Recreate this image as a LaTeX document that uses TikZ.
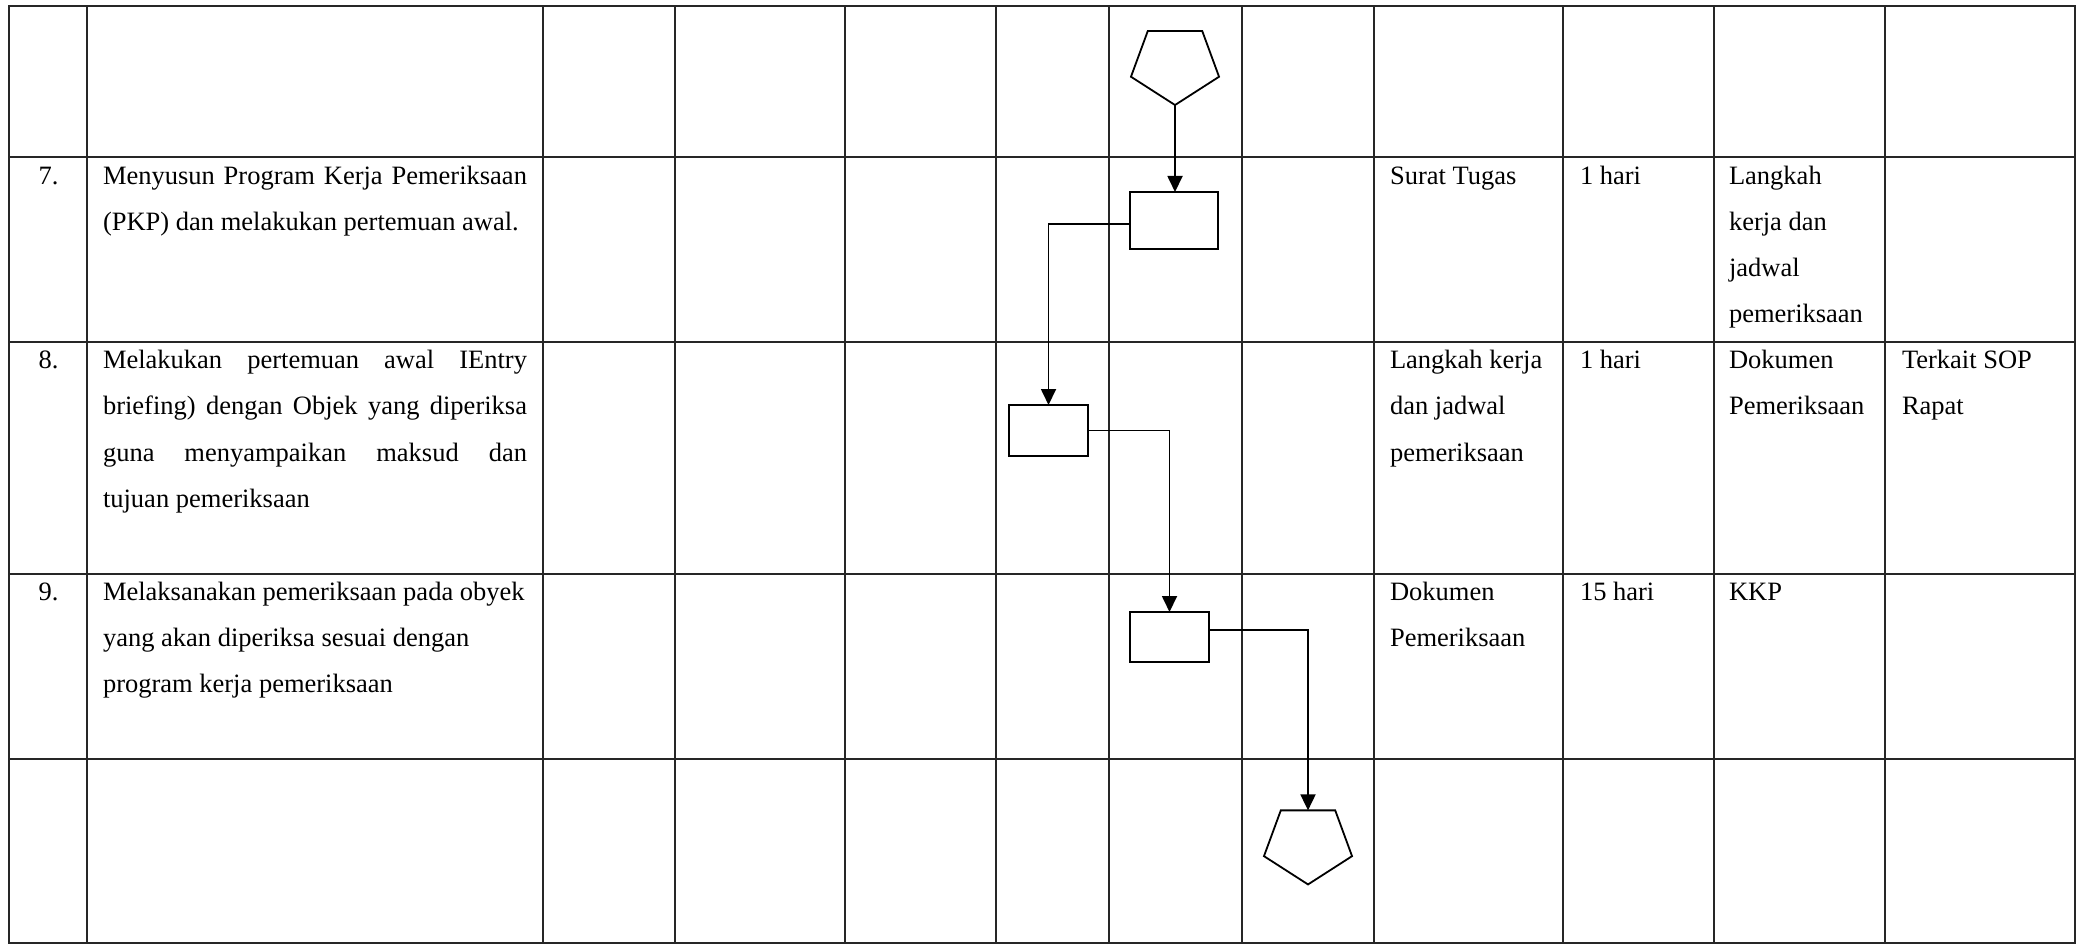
\documentclass[tikz,border=0pt]{standalone}
\usepackage{fontspec}
\setmainfont{Liberation Serif}
\usetikzlibrary{arrows.meta,shapes.geometric}
\newcommand\cellfont{\fontsize{13.25}{23}\selectfont}
\tikzset{
  gridline/.style={line width=0.85pt, draw=black!85},
  txt/.style={anchor=base west, inner sep=0pt, outer sep=0pt, font=\cellfont, text=black},
  numtxt/.style={anchor=base, inner sep=0pt, outer sep=0pt, font=\cellfont, text=black},
  procbox/.style={draw=black, line width=0.9pt, rectangle, inner sep=0pt, outer sep=0pt},
  pent/.style={draw=black, line width=0.9pt, regular polygon, regular polygon sides=5,
               shape border rotate=180, inner sep=0pt, outer sep=0pt, minimum size=46.3pt},
  flow/.style={line width=0.9pt, draw=black, -{Triangle[width=7.5pt,length=8pt]}},
}
\newcommand\jline[1]{\makebox[212pt][s]{#1}}
\begin{document}
\begin{tikzpicture}[x=0.5pt,y=-0.5pt]
\useasboundingbox (0,0) rectangle (2086,946);
\fill[white] (0,0) rectangle (2086,946);

% grid
\draw[gridline] (9,6) rectangle (2075,943);
\foreach \gx in {87,543,675,845,996,1109,1242,1374,1563,1714,1885}
  \draw[gridline] (\gx,6) -- (\gx,943);
\foreach \gy in {157,342,574,759}
  \draw[gridline] (9,\gy) -- (2075,\gy);

% row 7
\node[numtxt] (n7) at (48.5,185) {7.};
\node[txt] (d7a) at (103,185) {\jline{Menyusun Program Kerja Pemeriksaan}};
\node[txt] (d7b) at (103,231) {(PKP) dan melakukan pertemuan awal.};
\node[txt] (k7) at (1390,185) {Surat Tugas};
\node[txt] (w7) at (1580,185) {1 hari};
\node[txt] (o7a) at (1729,185) {Langkah};
\node[txt] (o7b) at (1729,231) {kerja dan};
\node[txt] (o7c) at (1729,277) {jadwal};
\node[txt] (o7d) at (1729,323) {pemeriksaan};

% row 8
\node[numtxt] (n8) at (48.5,369) {8.};
\node[txt] (d8a) at (103,369) {\jline{Melakukan pertemuan awal IEntry}};
\node[txt] (d8b) at (103,415) {\jline{briefing) dengan Objek yang diperiksa}};
\node[txt] (d8c) at (103,461) {\jline{guna menyampaikan maksud dan}};
\node[txt] (d8d) at (103,507) {tujuan pemeriksaan};
\node[txt] (k8a) at (1390,369) {Langkah kerja};
\node[txt] (k8b) at (1390,415) {dan jadwal};
\node[txt] (k8c) at (1390,461) {pemeriksaan};
\node[txt] (w8) at (1580,369) {1 hari};
\node[txt] (o8a) at (1729,369) {Dokumen};
\node[txt] (o8b) at (1729,415) {Pemeriksaan};
\node[txt] (r8a) at (1902,369) {Terkait SOP};
\node[txt] (r8b) at (1902,415) {Rapat};

% row 9
\node[numtxt] (n9) at (48.5,600) {9.};
\node[txt] (d9a) at (103,600) {Melaksanakan pemeriksaan pada obyek};
\node[txt] (d9b) at (103,646) {yang akan diperiksa sesuai dengan};
\node[txt] (d9c) at (103,692) {program kerja pemeriksaan};
\node[txt] (k9a) at (1390,600) {Dokumen};
\node[txt] (k9b) at (1390,646) {Pemeriksaan};
\node[txt] (w9) at (1580,600) {15 hari};
\node[txt] (o9) at (1729,600) {KKP};

% flow shapes
\node[pent, shift={(1175,64.1)}, yscale=0.884, transform shape] (p1) {};
\node[procbox, minimum width=44pt, minimum height=28.5pt] (b1) at (1174,220.5) {};
\node[procbox, minimum width=39.5pt, minimum height=25.5pt] (b2) at (1048.5,430.5) {};
\node[procbox, minimum width=39.5pt, minimum height=25pt] (b3) at (1169.5,637) {};
\node[pent, shift={(1308,843.5)}, yscale=0.884, transform shape] (p2) {};

% connectors
\draw[flow] (p1.south) -- (p1.south |- b1.north);
\draw[flow] (b1.185) -| (b2.north);
\draw[flow] (b2.east) -| (b3.north);
\draw[flow] (b3.10) -| (p2.north);
\end{tikzpicture}
\end{document}
